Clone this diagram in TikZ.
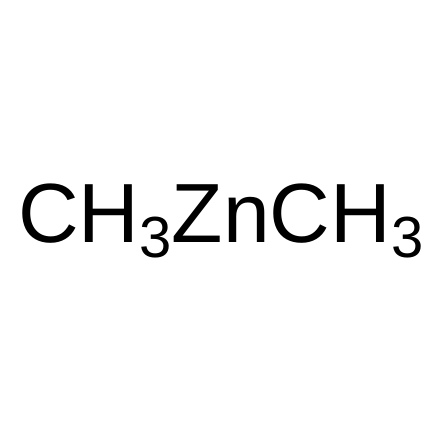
\documentclass[tikz,border=0pt]{standalone}
\usepackage{fontspec}
\setmainfont{Liberation Sans}
\newcommand{\subthree}{\raisebox{-15pt}{\fontsize{58}{58}\selectfont 3}}
\tikzset{formula/.style={inner sep=0pt,font=\fontsize{84}{84}\selectfont}}

\begin{document}
\begin{tikzpicture}[x=1pt,y=1pt]
\useasboundingbox (0,0) rectangle (442,442);
\node (dmz) [formula,anchor=base west] at (18,199) {CH\subthree ZnCH\subthree};
\end{tikzpicture}
\end{document}
